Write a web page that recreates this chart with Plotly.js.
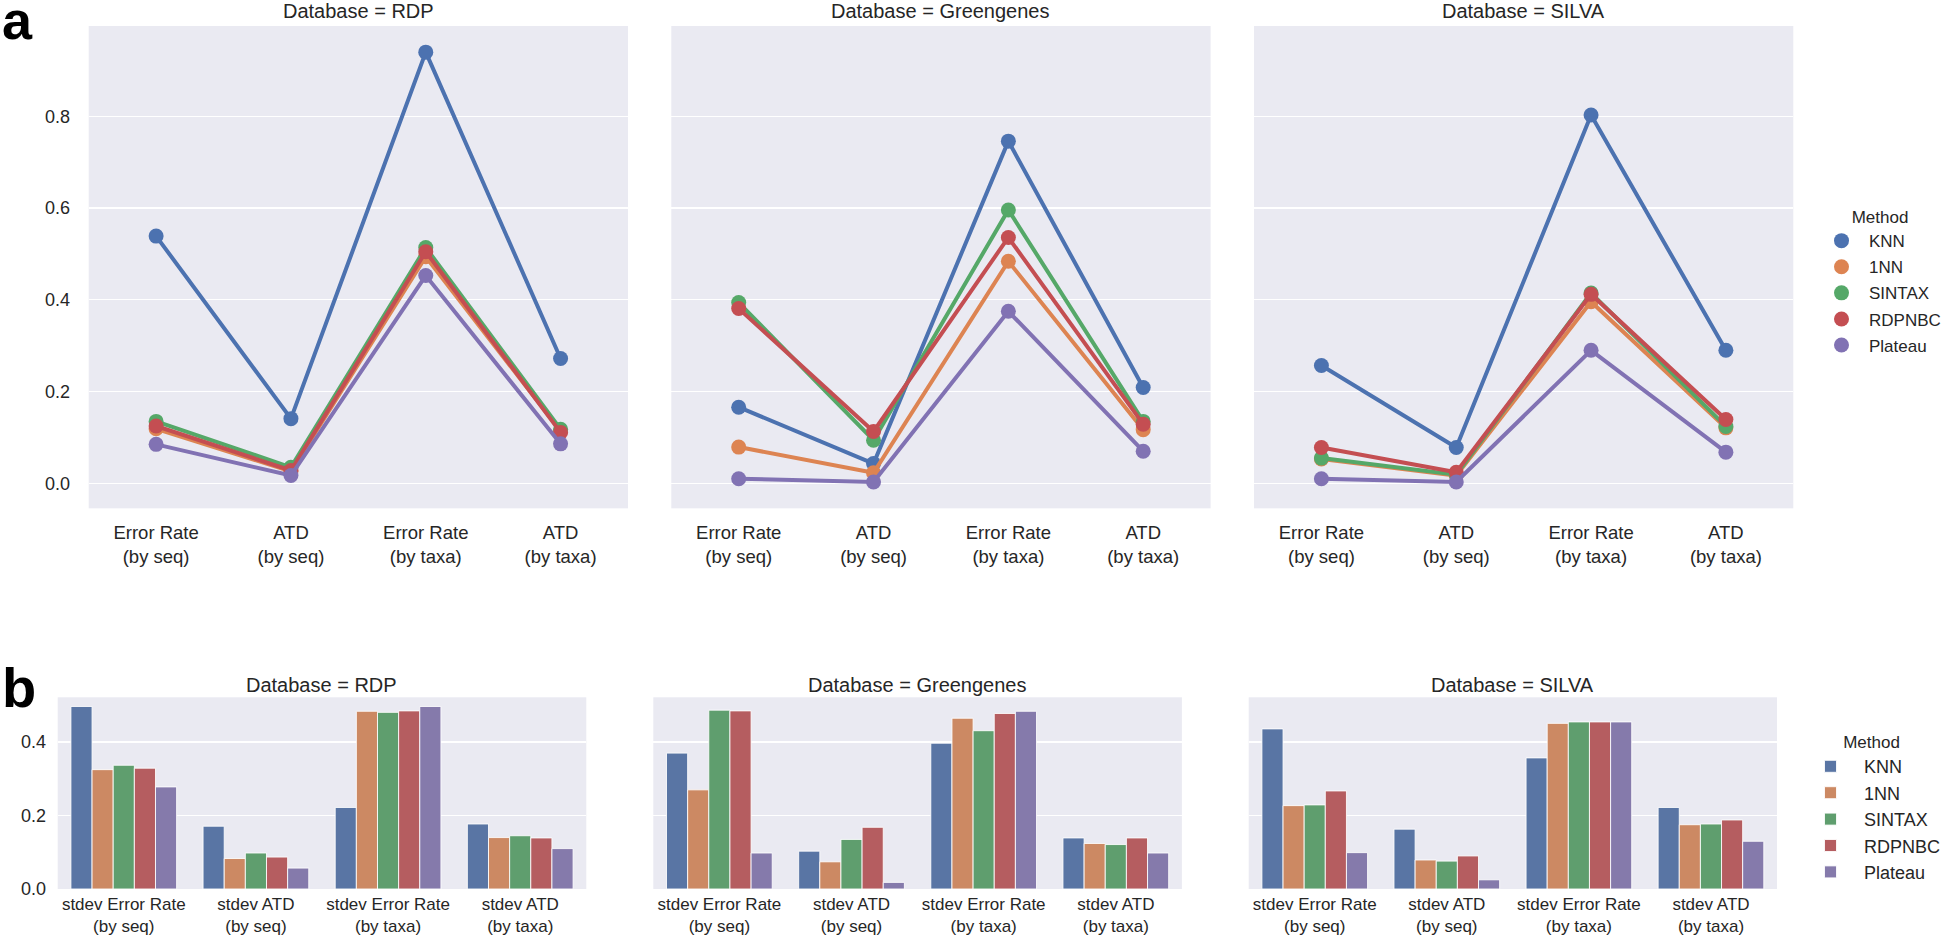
<!DOCTYPE html>
<html><head><meta charset="utf-8">
<script src="https://cdn.plot.ly/plotly-3.0.1.min.js"></script>
<style>html,body{margin:0;padding:0;background:#fff}#chart{width:1946px;height:937px}</style>
</head><body><div id="chart"></div>
<script>
// ---------- data ----------
const methods = ["KNN", "1NN", "SINTAX", "RDPNBC", "Plateau"];
const databases = ["RDP", "Greengenes", "SILVA"];
const metricLabels = ["Error Rate<br>(by seq)", "ATD<br>(by seq)", "Error Rate<br>(by taxa)", "ATD<br>(by taxa)"];
const stdevLabels = ["stdev Error Rate<br>(by seq)", "stdev ATD<br>(by seq)", "stdev Error Rate<br>(by taxa)", "stdev ATD<br>(by taxa)"];
const yTicksTop = [0, 0.2, 0.4, 0.6, 0.8];
const yTicksBottom = [0, 0.2, 0.4];

// mean values, rows follow `methods`, columns follow `metricLabels`
const meanRDP = [
  [0.539, 0.141, 0.940, 0.272],
  [0.119, 0.026, 0.494, 0.114],
  [0.135, 0.035, 0.514, 0.118],
  [0.125, 0.028, 0.505, 0.111],
  [0.085, 0.017, 0.453, 0.086]
];
const meanGreengenes = [
  [0.166, 0.043, 0.746, 0.209],
  [0.079, 0.023, 0.484, 0.117],
  [0.394, 0.094, 0.596, 0.135],
  [0.381, 0.113, 0.536, 0.129],
  [0.010, 0.003, 0.375, 0.070]
];
const meanSILVA = [
  [0.257, 0.078, 0.803, 0.290],
  [0.053, 0.017, 0.396, 0.121],
  [0.055, 0.019, 0.415, 0.124],
  [0.078, 0.024, 0.412, 0.139],
  [0.010, 0.003, 0.290, 0.068]
];

// standard deviations, rows follow `methods`, columns follow `stdevLabels`
const stdRDP = [
  [0.497, 0.171, 0.222, 0.177],
  [0.325, 0.083, 0.484, 0.140],
  [0.337, 0.098, 0.481, 0.145],
  [0.329, 0.087, 0.485, 0.139],
  [0.278, 0.057, 0.497, 0.110]
];
const stdGreengenes = [
  [0.370, 0.103, 0.397, 0.139],
  [0.270, 0.074, 0.465, 0.124],
  [0.487, 0.135, 0.431, 0.121],
  [0.485, 0.168, 0.478, 0.139],
  [0.098, 0.018, 0.484, 0.098]
];
const stdSILVA = [
  [0.436, 0.163, 0.357, 0.222],
  [0.227, 0.079, 0.451, 0.175],
  [0.229, 0.076, 0.455, 0.177],
  [0.267, 0.090, 0.455, 0.188],
  [0.099, 0.025, 0.455, 0.130]
];

const meanData = [meanRDP, meanGreengenes, meanSILVA];
const stdData = [stdRDP, stdGreengenes, stdSILVA];

// ---------- style ----------
const lineColors = ["#4C72B0", "#DD8452", "#55A868", "#C44E52", "#8172B3"];
const barColors = ["#5975A4", "#CC8963", "#5F9E6E", "#B55D60", "#857AAB"];
const FONT = "Liberation Sans, Arial, Helvetica, sans-serif";
const TXT = "#262626";
const BG = "#EAEAF2";

const topX = [[0.04558, 0.32271], [0.34496, 0.62210], [0.64440, 0.92153]];
const topY = [0.4575, 0.97225];
const botX = [[0.02965, 0.30128], [0.33571, 0.60735], [0.64168, 0.91316]];
const botY = [0.05123, 0.25582];

const traces = [];
databases.forEach((db, p) => {
  const xa = p === 0 ? "x" : "x" + (p + 1);
  const ya = p === 0 ? "y" : "y" + (p + 1);
  methods.forEach((m, i) => {
    traces.push({
      type: "scatter", mode: "lines", x: metricLabels, y: meanData[p][i],
      xaxis: xa, yaxis: ya, line: {color: lineColors[i], width: 4},
      showlegend: false, hoverinfo: "skip", cliponaxis: false
    });
    traces.push({
      type: "scatter", mode: "markers", x: metricLabels, y: meanData[p][i],
      xaxis: xa, yaxis: ya, name: m, legend: "legend", legendgroup: "t" + m,
      marker: {color: lineColors[i], size: 15, line: {width: 0}},
      showlegend: p === 0, cliponaxis: false
    });
  });
});
databases.forEach((db, p) => {
  const xa = "x" + (p + 4);
  const ya = "y" + (p + 4);
  methods.forEach((m, i) => {
    traces.push({
      type: "bar", x: stdevLabels, y: stdData[p][i], xaxis: xa, yaxis: ya,
      name: m, legend: "legend2", legendgroup: "b" + m,
      marker: {color: barColors[i], line: {color: "rgba(255,255,255,0.85)", width: 1}},
      showlegend: p === 0
    });
  });
});

const layout = {
  width: 1946, height: 937,
  margin: {l: 0, r: 0, t: 0, b: 0, autoexpand: false},
  paper_bgcolor: "#ffffff", plot_bgcolor: BG,
  font: {family: FONT, color: TXT, size: 18},
  barmode: "group", bargap: 0.2, bargroupgap: 0,
  showlegend: true,
  legend: {
    x: 1, xanchor: "right", y: 1 - 201 / 937, yanchor: "top",
    bgcolor: "rgba(0,0,0,0)", borderwidth: 0, itemwidth: 45,
    traceorder: "grouped", tracegroupgap: 1,
    font: {size: 17, color: TXT, family: FONT},
    title: {text: "Method", side: "top center", font: {size: 17, color: TXT, family: FONT}}
  },
  legend2: {
    x: 1797 / 1946, xanchor: "left", y: 1 - 726 / 937, yanchor: "top",
    bgcolor: "rgba(0,0,0,0)", borderwidth: 0, itemwidth: 57,
    traceorder: "grouped", tracegroupgap: 0,
    font: {size: 18, color: TXT, family: FONT},
    title: {text: "Method", side: "top center", font: {size: 17, color: TXT, family: FONT}}
  },
  annotations: [],
  shapes: []
};

const axBase = {
  showgrid: true, gridcolor: "#ffffff", gridwidth: 1.3, zeroline: false,
  showline: false, ticks: "outside", tickcolor: "rgba(0,0,0,0)"
};

for (let p = 0; p < 3; p++) {
  const sfx = p === 0 ? "" : String(p + 1);
  layout["xaxis" + sfx] = Object.assign({}, axBase, {
    domain: topX[p], anchor: "y" + sfx, type: "category",
    range: [-0.5, 3.5], showgrid: false, ticklen: 7,
    tickfont: {size: 18.5, color: TXT, family: FONT}
  });
  layout["yaxis" + sfx] = Object.assign({}, axBase, {
    domain: topY, anchor: "x" + sfx, range: [-0.0545, 0.997],
    tickvals: yTicksTop, tickformat: ".1f", ticklen: 14,
    showticklabels: p === 0,
    tickfont: {size: 18, color: TXT, family: FONT}
  });
  const b = String(p + 4);
  layout["xaxis" + b] = Object.assign({}, axBase, {
    domain: botX[p], anchor: "y" + b, type: "category",
    range: [-0.5, 3.5], showgrid: false, ticklen: 0,
    tickfont: {size: 17, color: TXT, family: FONT}
  });
  layout["yaxis" + b] = Object.assign({}, axBase, {
    domain: botY, anchor: "x" + b, range: [0, 0.522],
    tickvals: yTicksBottom, tickformat: ".1f", ticklen: 7,
    showticklabels: p === 0,
    tickfont: {size: 18, color: TXT, family: FONT}
  });
  layout.annotations.push({
    text: "Database = " + databases[p], xref: "paper", yref: "paper",
    x: (topX[p][0] + topX[p][1]) / 2, y: 1 - 11 / 937,
    xanchor: "center", yanchor: "middle", showarrow: false,
    font: {size: 20, color: TXT, family: FONT}
  });
  layout.annotations.push({
    text: "Database = " + databases[p], xref: "paper", yref: "paper",
    x: (botX[p][0] + botX[p][1]) / 2, y: 1 - 685 / 937,
    xanchor: "center", yanchor: "middle", showarrow: false,
    font: {size: 20, color: TXT, family: FONT}
  });
}
layout.annotations.push({
  text: "<b>a</b>", xref: "paper", yref: "paper", x: 0, y: 1 - 20 / 937,
  xanchor: "left", yanchor: "middle", showarrow: false, height: 40,
  font: {size: 54, color: "#000", family: FONT}
});
layout.annotations.push({
  text: "<b>b</b>", xref: "paper", yref: "paper", x: 0, y: 1 - 687 / 937,
  xanchor: "left", yanchor: "middle", showarrow: false,
  font: {size: 56, color: "#000", family: FONT}
});

Plotly.newPlot("chart", traces, layout, {staticPlot: true, displayModeBar: false});
</script>
</body></html>
